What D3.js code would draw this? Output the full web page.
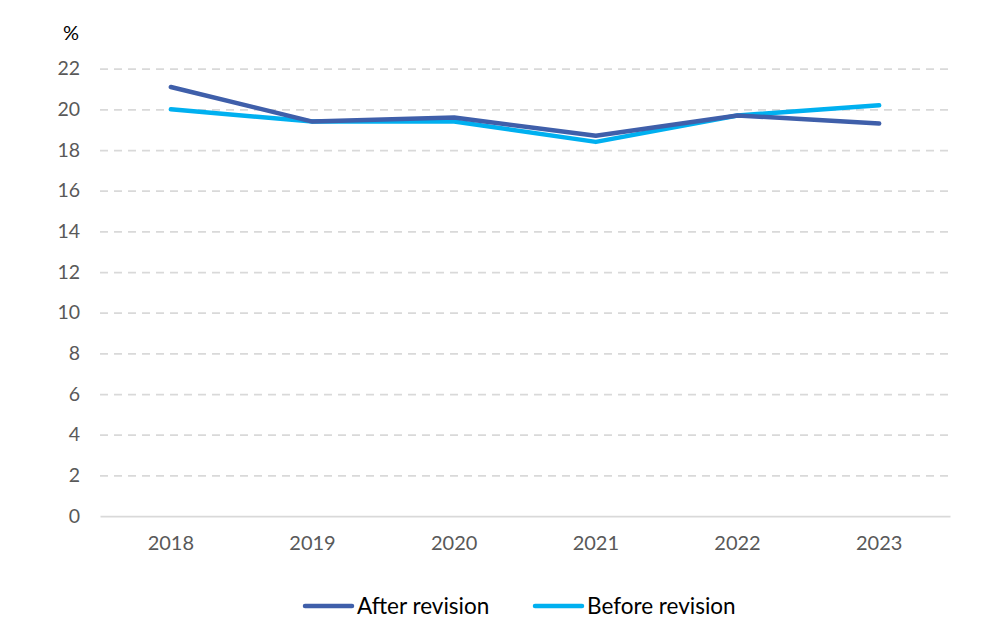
<!DOCTYPE html>
<html>
<head>
<meta charset="utf-8">
<script src="https://cdn.jsdelivr.net/npm/d3@7"></script>
<style>
  body { margin: 0; background: #fff; }
  svg { font-family: Lato, "Open Sans", sans-serif; }
</style>
</head>
<body>
<svg width="988" height="636"></svg>
<script>
const years = ['2018', '2019', '2020', '2021', '2022', '2023'];
const afterRevision = [21.1, 19.4, 19.6, 18.7, 19.7, 19.3];
const beforeRevision = [20.0, 19.4, 19.4, 18.4, 19.7, 20.2];
const yTicks = [0, 2, 4, 6, 8, 10, 12, 14, 16, 18, 20, 22];

const svg = d3.select('svg');
const plotLeft = 100, plotRight = 950, plotTop = 68.7, plotBottom = 516;

const xScale = d3.scaleBand()
  .domain(years)
  .range([plotLeft, plotRight]);

const yScale = d3.scaleLinear()
  .domain([0, 22])
  .range([plotBottom, plotTop]);

// grid lines
const grid = svg.append('g')
  .attr('transform', `translate(${plotLeft},0)`)
  .call(d3.axisLeft(yScale)
    .tickValues(yTicks.filter(d => d > 0))
    .tickSize(-(plotRight - plotLeft))
    .tickFormat(''));
grid.select('.domain').remove();
grid.selectAll('line')
  .attr('stroke', '#d9d9d9')
  .attr('stroke-width', 1.75)
  .attr('stroke-dasharray', '8,6');

// y labels
const yAxis = svg.append('g')
  .attr('transform', `translate(${plotLeft},0)`)
  .call(d3.axisLeft(yScale).tickValues(yTicks).tickSize(0).tickPadding(20));
yAxis.select('.domain').remove();
yAxis.selectAll('text')
  .attr('font-size', 19.5)
  .attr('fill', '#595959')
  .attr('font-family', 'Lato, sans-serif');

// x axis
const xAxis = svg.append('g')
  .attr('transform', `translate(0,${plotBottom})`)
  .call(d3.axisBottom(xScale).tickSize(0).tickPadding(20));
xAxis.select('.domain')
  .attr('stroke', '#d9d9d9')
  .attr('stroke-width', 1.75);
xAxis.selectAll('text')
  .attr('font-size', 20)
  .attr('fill', '#595959')
  .attr('font-family', 'Lato, sans-serif');

svg.append('text')
  .attr('x', 71)
  .attr('y', 40)
  .attr('text-anchor', 'middle')
  .attr('font-size', 20)
  .attr('fill', '#000')
  .text('%');

const line = d3.line()
  .x((d, i) => xScale(years[i]) + xScale.bandwidth() / 2)
  .y(d => yScale(d));

const series = [
  { name: 'After revision', values: afterRevision, color: '#3F5FAA' },
  { name: 'Before revision', values: beforeRevision, color: '#00B0F0' }
];

series.slice().reverse().forEach(s => {
  svg.append('path')
    .datum(s.values)
    .attr('d', line)
    .attr('fill', 'none')
    .attr('stroke', s.color)
    .attr('stroke-width', 4.5)
    .attr('stroke-linejoin', 'round')
    .attr('stroke-linecap', 'round');
});

// legend
const legendX = [305, 535];
series.forEach((s, i) => {
  const g = svg.append('g').attr('transform', `translate(${legendX[i]},606)`);
  g.append('line')
    .attr('x1', 0).attr('x2', 47)
    .attr('stroke', s.color)
    .attr('stroke-width', 4.5)
    .attr('stroke-linecap', 'round');
  g.append('text')
    .attr('x', 52)
    .attr('y', 8)
    .attr('font-size', 22.5)
    .attr('fill', '#000')
    .text(s.name);
});
</script>
</body>
</html>
